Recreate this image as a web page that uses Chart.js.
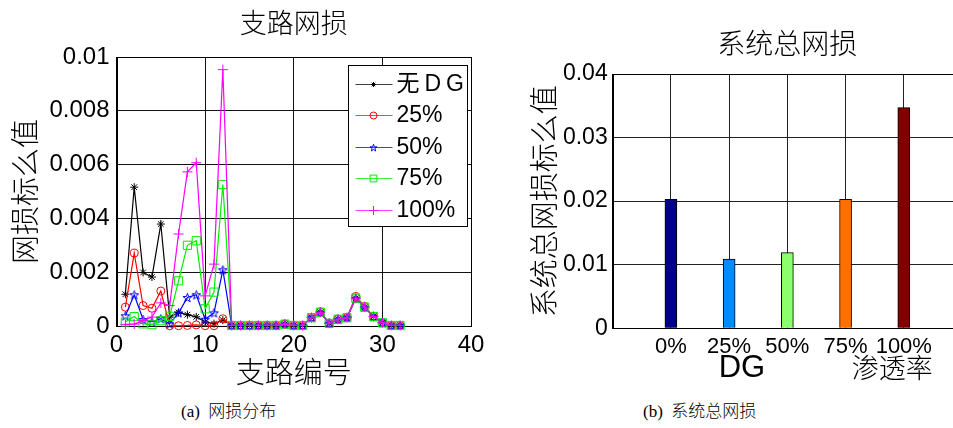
<!DOCTYPE html>
<html>
<head>
<meta charset="utf-8">
<script src="https://cdn.jsdelivr.net/npm/chart.js@4.4.1/dist/chart.umd.min.js"></script>
<style>
  html, body { margin: 0; padding: 0; background: #fff; }
  #wrap { position: relative; width: 953px; height: 428px; overflow: hidden; background: #fff; }
  #c1 { position: absolute; left: 0; top: 0; }
  #c2 { position: absolute; left: 500px; top: 0; }
  .cap { position: absolute; top: 397px; font: 300 17px 'Liberation Serif', 'Noto Sans CJK SC', serif; color: #000; white-space: pre; }
</style>
</head>
<body>
<div id="wrap">
  <canvas id="c1" width="490" height="395"></canvas>
  <canvas id="c2" width="470" height="395"></canvas>
  <div class="cap" style="left:181px">(a)  网损分布</div>
  <div class="cap" style="left:643px">(b)  系统总网损</div>
</div>
<script>
// ---- branch loss data (per-unit) ----
const branches = [1, 2, 3, 4, 5, 6, 7, 8, 9, 10, 11, 12, 13, 14, 15, 16,
                  17, 18, 19, 20, 21, 22, 23, 24, 25, 26, 27, 28, 29, 30, 31, 32];

const lossNoDG = [1.18e-3, 5.16e-3, 1.99e-3, 1.82e-3, 3.79e-3, 0.33e-3, 0.50e-3, 0.42e-3,
                  0.34e-3, 0.15e-3, 0.09e-3, 0.22e-3, 0.02e-3, 0.02e-3, 0.02e-3, 0.02e-3,
                  0.02e-3, 0.02e-3, 0.07e-3, 0.02e-3, 0.02e-3, 0.31e-3, 0.51e-3, 0.10e-3,
                  0.25e-3, 0.31e-3, 1.03e-3, 0.70e-3, 0.35e-3, 0.12e-3, 0.02e-3, 0.02e-3];

const loss25 = [0.70e-3, 2.71e-3, 0.76e-3, 0.66e-3, 1.30e-3, 0.01e-3, 0.01e-3, 0.02e-3,
                0.04e-3, 0.01e-3, 0.01e-3, 0.27e-3, 0.02e-3, 0.02e-3, 0.02e-3, 0.02e-3,
                0.02e-3, 0.02e-3, 0.07e-3, 0.02e-3, 0.02e-3, 0.32e-3, 0.53e-3, 0.10e-3,
                0.26e-3, 0.32e-3, 1.10e-3, 0.73e-3, 0.36e-3, 0.12e-3, 0.02e-3, 0.02e-3];

const loss50 = [0.38e-3, 1.16e-3, 0.24e-3, 0.16e-3, 0.27e-3, 0.08e-3, 0.49e-3, 1.06e-3,
                1.16e-3, 0.25e-3, 0.49e-3, 2.09e-3, 0.02e-3, 0.02e-3, 0.02e-3, 0.02e-3,
                0.02e-3, 0.02e-3, 0.07e-3, 0.02e-3, 0.02e-3, 0.31e-3, 0.51e-3, 0.10e-3,
                0.25e-3, 0.31e-3, 1.03e-3, 0.70e-3, 0.35e-3, 0.12e-3, 0.02e-3, 0.02e-3];

const loss75 = [0.15e-3, 0.35e-3, 0.08e-3, 0.05e-3, 0.20e-3, 0.36e-3, 1.68e-3, 3.00e-3,
                3.17e-3, 0.64e-3, 1.26e-3, 5.26e-3, 0.02e-3, 0.02e-3, 0.02e-3, 0.02e-3,
                0.02e-3, 0.02e-3, 0.07e-3, 0.02e-3, 0.02e-3, 0.31e-3, 0.51e-3, 0.10e-3,
                0.25e-3, 0.31e-3, 1.03e-3, 0.70e-3, 0.35e-3, 0.12e-3, 0.02e-3, 0.02e-3];

const loss100 = [0.06e-3, 0.07e-3, 0.20e-3, 0.33e-3, 0.86e-3, 0.76e-3, 3.42e-3, 5.73e-3,
                 6.07e-3, 1.12e-3, 2.30e-3, 9.53e-3, 0.02e-3, 0.02e-3, 0.02e-3, 0.02e-3,
                 0.02e-3, 0.02e-3, 0.07e-3, 0.02e-3, 0.02e-3, 0.31e-3, 0.51e-3, 0.10e-3,
                 0.25e-3, 0.31e-3, 1.03e-3, 0.70e-3, 0.35e-3, 0.12e-3, 0.02e-3, 0.02e-3];

const seriesNames = ['无DG', '25%', '50%', '75%', '100%'];

const branchTickValues = [0, 10, 20, 30, 40];
const branchTickLabels = ['0', '10', '20', '30', '40'];
const lossTickValues = [0, 0.002, 0.004, 0.006, 0.008, 0.01];
const lossTickLabels = ['0', '0.002', '0.004', '0.006', '0.008', '0.01'];

// ---- total system loss data (per-unit) ----
const penetration = ['0%', '25%', '50%', '75%', '100%'];
const penetrationPos = [1, 2, 3, 4, 5];
const totalLoss = [0.0203, 0.0109, 0.0119, 0.0203, 0.0347];
const totalTickValues = [0, 0.01, 0.02, 0.03, 0.04];
const totalTickLabels = ['0', '0.01', '0.02', '0.03', '0.04'];

// ---- fonts & styles ----
const LAT = "'Liberation Sans', Arial, 'Noto Sans CJK SC', sans-serif";
const CJK = "'Noto Sans CJK SC', 'Liberation Sans', sans-serif";
const barColors = ['#00008C', '#008CFF', '#8CFF6E', '#FF7000', '#800000'];

// hollow five-pointed star used as a marker
function pentagram(size, color) {
  const c = document.createElement('canvas');
  c.width = c.height = size;
  const g = c.getContext('2d');
  g.strokeStyle = color;
  g.lineWidth = 1;
  const cx = size / 2, cy = size / 2 + 0.5, R = size / 2 - 0.8, r = R * 0.4;
  g.beginPath();
  for (let k = 0; k < 10; k++) {
    const a = -Math.PI / 2 + k * Math.PI / 5;
    const rr = k % 2 ? r : R;
    const px = cx + rr * Math.cos(a), py = cy + rr * Math.sin(a);
    if (k === 0) g.moveTo(px, py); else g.lineTo(px, py);
  }
  g.closePath();
  g.stroke();
  return c;
}

const seriesStyle = [
  { color: '#000000', point: 'star',  radius: 4,   legendRadius: 2.5, order: 5 },
  { color: '#FF0000', point: 'circle', radius: 4,  legendRadius: 3.5, order: 4 },
  { color: '#0000FF', point: pentagram(11, '#0000FF'), legendPoint: pentagram(9, '#0000FF'), radius: 5, legendRadius: 4, order: 3 },
  { color: '#00EE00', point: 'rect',  radius: 5.8, legendRadius: 4.8, order: 2 },
  { color: '#FF00FF', point: 'cross', radius: 5,   legendRadius: 4.5, order: 1 }
];
const legendTracking = [5, 0, 0, 0, 0];

const seriesValues = [lossNoDG, loss25, loss50, loss75, loss100];

// box around the plotting area
const frame = {
  id: 'frame',
  beforeDatasetsDraw(chart) {
    const { left, top, right, bottom } = chart.chartArea;
    const g = chart.ctx;
    g.save();
    g.strokeStyle = '#000';
    g.lineWidth = 1;
    g.strokeRect(Math.round(left) + 0.5, Math.round(top) + 0.5,
                 Math.round(right) - Math.round(left), Math.round(bottom) - Math.round(top));
    g.restore();
  }
};

// boxed legend in the upper-right corner of the plot
const boxLegend = {
  id: 'boxLegend',
  afterDatasetsDraw(chart) {
    const g = chart.ctx;
    const area = chart.chartArea;
    const bw = 119, bh = 161;
    const bx = Math.round(area.right) - 4 - bw + 0.5;
    const by = Math.round(area.top) + 8 + 0.5;
    g.save();
    g.fillStyle = '#fff';
    g.fillRect(bx, by, bw, bh);
    g.strokeStyle = '#000';
    g.lineWidth = 1;
    g.strokeRect(bx, by, bw, bh);
    chart.data.datasets.forEach((ds, i) => {
      const st = seriesStyle[i];
      const y = by + 18 + i * 31.5;
      g.strokeStyle = st.color;
      g.globalAlpha = 0.75;
      g.lineWidth = 1;
      g.beginPath();
      g.moveTo(bx + 7, Math.round(y) + 0.5);
      g.lineTo(bx + 44, Math.round(y) + 0.5);
      g.stroke();
      g.globalAlpha = 1;
      g.fillStyle = 'rgba(0,0,0,0)';
      Chart.helpers.drawPoint(g, {
        pointStyle: st.legendPoint || st.point, radius: st.legendRadius,
        rotation: 0, borderWidth: 1
      }, bx + 25, Math.round(y) + 0.5);
      g.fillStyle = '#000';
      g.font = '23px ' + LAT;
      g.textBaseline = 'middle';
      g.textAlign = 'left';
      g.letterSpacing = legendTracking[i] + 'px';
      g.fillText(ds.label, bx + 48, y + 1);
      g.letterSpacing = '0px';
    });
    g.restore();
  }
};

new Chart(document.getElementById('c1'), {
  type: 'line',
  data: {
    datasets: seriesValues.map((vals, i) => ({
      label: seriesNames[i],
      data: branches.map((b, k) => ({ x: b, y: vals[k] })),
      borderColor: seriesStyle[i].color,
      borderWidth: 1.2,
      pointStyle: seriesStyle[i].point,
      pointRadius: seriesStyle[i].radius,
      pointBorderColor: seriesStyle[i].color,
      pointBackgroundColor: 'rgba(0,0,0,0)',
      pointBorderWidth: 1,
      tension: 0,
      fill: false,
      clip: false,
      order: seriesStyle[i].order
    }))
  },
  options: {
    responsive: false,
    animation: false,
    events: [],
    layout: { padding: { left: 10.5, right: 19, top: 0, bottom: 9 } },
    plugins: {
      legend: { display: false },
      tooltip: { enabled: false },
      title: {
        display: true, text: '支路网损', fullSize: false, color: '#000',
        font: { family: CJK, size: 27, weight: 300, lineHeight: 1.2 },
        padding: { top: 7, bottom: 17.6 }
      }
    },
    scales: {
      x: {
        type: 'linear', min: 0, max: 40,
        afterBuildTicks: s => { s.ticks = branchTickValues.map(v => ({ value: v })); },
        afterFit: s => { s.height = 60; },
        ticks: { callback: (v, i) => branchTickLabels[i], color: '#000', padding: 5, maxRotation: 0,
                 font: { family: LAT, size: 24 } },
        grid: { color: '#111', lineWidth: 1, drawTicks: false },
        border: { color: '#000', width: 1 },
        title: { display: true, text: '支路编号', color: '#000', padding: 0,
                 font: { family: CJK, size: 29, weight: 300, lineHeight: 1 } }
      },
      y: {
        type: 'linear', min: 0, max: 0.01,
        afterBuildTicks: s => { s.ticks = lossTickValues.map(v => ({ value: v })); },
        afterFit: s => { s.width = 106; },
        ticks: { callback: (v, i) => lossTickLabels[i], color: '#000', padding: 7,
                 font: { family: LAT, size: 24 } },
        grid: { color: '#111', lineWidth: 1, drawTicks: false },
        border: { color: '#000', width: 1 },
        title: { display: true, text: '网损标么值', color: '#000', padding: 0,
                 font: { family: CJK, size: 29, weight: 300, lineHeight: 1 } }
      }
    }
  },
  plugins: [frame, boxLegend]
});

// two-part x-axis caption under the bar chart
const barAxisCaption = {
  id: 'barAxisCaption',
  afterDraw(chart) {
    const g = chart.ctx;
    const xs = chart.scales.x;
    const y = chart.chartArea.bottom + 40;
    g.save();
    g.fillStyle = '#000';
    g.textBaseline = 'middle';
    g.textAlign = 'center';
    g.font = '31px ' + LAT;
    g.fillText('DG', xs.getPixelForValue(2.22), y);
    g.font = '300 27px ' + CJK;
    g.fillText('渗透率', xs.getPixelForValue(4.8), y - 1);
    g.restore();
  }
};

new Chart(document.getElementById('c2'), {
  type: 'bar',
  data: {
    datasets: [{
      label: '系统总网损',
      data: penetrationPos.map((p, i) => ({ x: p, y: totalLoss[i] })),
      backgroundColor: barColors,
      borderColor: '#000',
      borderWidth: 1,
      barThickness: 12
    }]
  },
  options: {
    responsive: false,
    animation: false,
    events: [],
    layout: { padding: { left: 29.5, right: 8, top: 0, bottom: 26.7 } },
    plugins: {
      legend: { display: false },
      tooltip: { enabled: false },
      title: {
        display: true, text: '系统总网损', fullSize: false, color: '#000',
        font: { family: CJK, size: 28, weight: 300, lineHeight: 1.2 },
        padding: { top: 27, bottom: 13.4 }
      }
    },
    scales: {
      x: {
        type: 'linear', min: 0, max: 6, offset: false,
        afterBuildTicks: s => { s.ticks = penetrationPos.map(v => ({ value: v })); },
        afterFit: s => { s.height = 40; },
        ticks: { callback: (v, i) => penetration[i], color: '#000', padding: 5, maxRotation: 0,
                 font: { family: LAT, size: 22 } },
        grid: { color: '#222', lineWidth: 1, drawTicks: false, offset: false },
        border: { color: '#000', width: 1 }
      },
      y: {
        type: 'linear', min: 0, max: 0.04,
        afterBuildTicks: s => { s.ticks = totalTickValues.map(v => ({ value: v })); },
        afterFit: s => { s.width = 83.2; },
        ticks: { callback: (v, i) => totalTickLabels[i], color: '#000', padding: 5,
                 font: { family: LAT, size: 23 } },
        grid: { color: '#222', lineWidth: 1, drawTicks: false },
        border: { color: '#000', width: 1 },
        title: { display: true, text: '系统总网损标么值', color: '#000', padding: 0,
                 font: { family: CJK, size: 29, weight: 300, lineHeight: 1 } }
      }
    }
  },
  plugins: [frame, barAxisCaption]
});
</script>
</body>
</html>
